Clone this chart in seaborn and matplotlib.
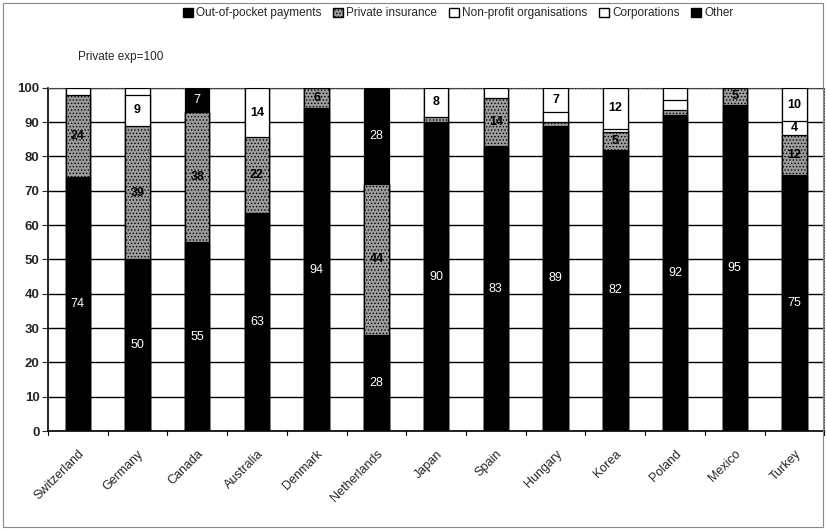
import numpy as np
import pandas as pd
import matplotlib
matplotlib.use("Agg")
import matplotlib.pyplot as plt
import seaborn as sns
from matplotlib.patches import Patch, Rectangle

countries = ['Switzerland', 'Germany', 'Canada', 'Australia', 'Denmark', 'Netherlands',
             'Japan', 'Spain', 'Hungary', 'Korea', 'Poland', 'Mexico', 'Turkey']

# private expenditure = 100
out_of_pocket = [74, 50, 55, 63.4, 94, 28, 90, 83, 89, 82, 92, 95, 74.6]
private_ins   = [24, 39, 38, 22.2, 6, 44, 1.5, 14, 1, 5, 1.5, 5, 11.6]
non_profit    = [2, 9, 0, 14.4, 0, 0, 8.5, 3, 3, 1, 3, 0, 4]
corporations  = [0, 2, 0, 0, 0, 0, 0, 0, 7, 12, 3.5, 0, 9.8]
other         = [0, 0, 7, 0, 0, 28, 0, 0, 0, 0, 0, 0, 0]

series_names = ['Out-of-pocket payments', 'Private insurance', 'Non-profit organisations',
                'Corporations', 'Other']

sns.set_style("white")
plt.rcParams['font.family'] = ['Liberation Sans', 'DejaVu Sans']
plt.rcParams['hatch.color'] = '#444444'
plt.rcParams['hatch.linewidth'] = 0.6

df = pd.DataFrame({'country': countries, 'oop': out_of_pocket, 'pi': private_ins,
                   'np': non_profit, 'corp': corporations, 'other': other})
cols = ['oop', 'pi', 'np', 'corp', 'other']
cum = df[cols].cumsum(axis=1)

fig = plt.figure(figsize=(8.26, 5.29), dpi=100)
ax = fig.add_axes([0.058, 0.185, 0.94, 0.649])

styles = {
    'other': dict(color='black', hatch=None),
    'corp': dict(color='white', hatch=None),
    'np': dict(color='white', hatch=None),
    'pi': dict(color='#9c9c9c', hatch='.....'),
    'oop': dict(color='black', hatch=None),
}

# draw cumulative heights from the top layer down
for c in reversed(cols):
    sns.barplot(x=df['country'], y=cum[c], ax=ax, color=styles[c]['color'],
                edgecolor='black', linewidth=0.9, width=0.41, saturation=1,
                hatch=styles[c]['hatch'], zorder=3)

# segment labels
for i in range(len(countries)):
    base = 0
    for c in cols:
        v = df[c][i]
        if v >= 4:
            if c in ('oop', 'other'):
                ax.text(i, base + v / 2, str(int(round(v))), ha='center', va='center',
                        color='white', fontsize=9, zorder=5)
            else:
                ax.text(i, base + v / 2, str(int(round(v))), ha='center', va='center',
                        color='black', fontsize=9, fontweight='bold', zorder=5)
        base += v

ax.set_ylim(0, 100)
ax.set_xlim(-0.5, len(countries) - 0.5)
ax.set_yticks(np.arange(0, 101, 10))
ax.yaxis.grid(True, color='black', linewidth=1.0, zorder=0)
ax.set_axisbelow(True)
ax.set_xlabel('')
ax.set_ylabel('')
ax.tick_params(axis='y', labelsize=9.5, length=4, direction='out', left=True, pad=2)
for t in ax.get_yticklabels():
    t.set_fontweight('bold')
ax.set_xticks(range(len(countries)))
ax.set_xticklabels(countries, rotation=45, ha='right', rotation_mode='anchor', fontsize=9)
ax.tick_params(axis='x', length=0, pad=12)
# category boundary tick marks
for k in range(len(countries) + 1):
    ax.plot([k - 0.5, k - 0.5], [0, -1.2], color='black', linewidth=0.8, clip_on=False)

for s in ['left', 'bottom']:
    ax.spines[s].set_color('black')
    ax.spines[s].set_linewidth(1.2)
for s in ['top', 'right']:
    ax.spines[s].set_color('#555555')
    ax.spines[s].set_linestyle((0, (1, 1.5)))
    ax.spines[s].set_linewidth(0.8)

fig.text(0.094, 0.893, 'Private exp=100', fontsize=8.5, ha='left', va='center')

handles = [Patch(facecolor='black', edgecolor='black'),
           Patch(facecolor='#9c9c9c', edgecolor='black', hatch='.....'),
           Patch(facecolor='white', edgecolor='black'),
           Patch(facecolor='white', edgecolor='black'),
           Patch(facecolor='black', edgecolor='black')]
fig.legend(handles, series_names, loc='center', bbox_to_anchor=(0.555, 0.975), ncol=5,
           frameon=False, fontsize=8.5, handlelength=0.8, handleheight=0.8,
           handletextpad=0.3, columnspacing=1.0)

fig.add_artist(Rectangle((0.004, 0.004), 0.992, 0.99, transform=fig.transFigure,
                         fill=False, edgecolor='#888888', linewidth=0.8))

fig.savefig('out.png', dpi=100)
